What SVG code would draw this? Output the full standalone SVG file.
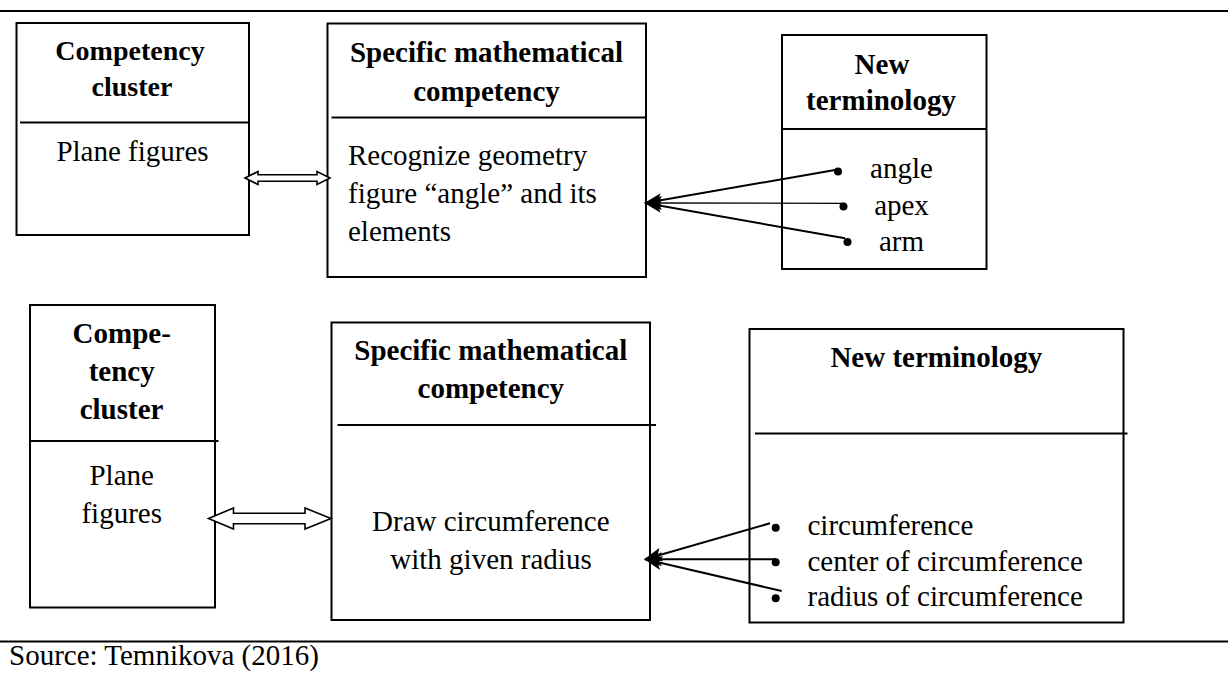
<svg xmlns="http://www.w3.org/2000/svg" width="1228" height="677" viewBox="0 0 1228 677">
<style>
.box{fill:none;stroke:#000;stroke-width:2}
.div{stroke:#000;stroke-width:2}
.rule{stroke:#000;stroke-width:2}
.h{font-family:"Liberation Serif","Times New Roman",serif;font-weight:bold;font-size:29px;fill:#000;text-anchor:middle}
.hs{font-size:28px}
.t{font-family:"Liberation Serif","Times New Roman",serif;font-size:29px;fill:#000}
.c{text-anchor:middle}
.con{stroke:#000;stroke-width:2;fill:none}
.thin{stroke-width:1.3}
.dbl{fill:#fff;stroke:#000;stroke-width:1.6;stroke-linejoin:miter}
.dot{fill:#000}
</style>
<defs>
<marker id="ah" markerUnits="userSpaceOnUse" markerWidth="18" markerHeight="14" refX="17" refY="7" orient="auto">
<path d="M0,0 L18,7 L0,14 L4,7 z" fill="#000"/>
</marker>
</defs>
<rect width="1228" height="677" fill="#fff"/>
<line class="rule" x1="0" y1="11" x2="1228" y2="11"/>
<line class="rule" x1="0" y1="641.5" x2="1228" y2="641.5"/>
<text class="t" x="9" y="665">Source: Temnikova (2016)</text>

<g id="cluster1">
<rect class="box" x="16.5" y="23" width="232.5" height="212"/>
<line class="div" x1="20" y1="122.5" x2="248" y2="122.5"/>
<text class="h hs" x="130" y="60">Competency</text>
<text class="h hs" x="132" y="96">cluster</text>
<text class="t c" x="132.5" y="161">Plane figures</text>
</g>

<g id="competency1">
<rect class="box" x="327.5" y="23.5" width="318.5" height="253.5"/>
<line class="div" x1="331.5" y1="117.5" x2="646" y2="117.5"/>
<text class="h" x="486.5" y="61.5">Specific mathematical</text>
<text class="h" x="486.5" y="100.5">competency</text>
<text class="t" x="348" y="165">Recognize geometry</text>
<text class="t" x="348" y="203">figure “angle” and its</text>
<text class="t" x="348" y="240.5">elements</text>
</g>

<g id="terminology1">
<rect class="box" x="782" y="35" width="204.5" height="234"/>
<line class="div" x1="782" y1="129" x2="987" y2="129"/>
<text class="h" x="882" y="74">New</text>
<text class="h" x="881" y="110">terminology</text>
<circle class="dot" cx="838" cy="171.5" r="4"/>
<circle class="dot" cx="843.5" cy="206.5" r="4"/>
<circle class="dot" cx="847.5" cy="242" r="4"/>
<text class="t c" x="901.5" y="178">angle</text>
<text class="t c" x="901.5" y="214.5">apex</text>
<text class="t c" x="901.5" y="251">arm</text>
</g>

<g id="cluster2">
<rect class="box" x="30" y="305" width="185" height="302.5"/>
<line class="div" x1="30" y1="441" x2="218.5" y2="441"/>
<text class="h" x="121.7" y="343">Compe-</text>
<text class="h" x="121.7" y="380.5">tency</text>
<text class="h" x="121.5" y="419">cluster</text>
<text class="t c" x="121.7" y="485">Plane</text>
<text class="t c" x="121.7" y="523">figures</text>
</g>

<g id="competency2">
<rect class="box" x="331.5" y="322.5" width="318.5" height="297.5"/>
<line class="div" x1="337.5" y1="425" x2="656" y2="425"/>
<text class="h" x="490.8" y="360">Specific mathematical</text>
<text class="h" x="490.8" y="398">competency</text>
<text class="t c" x="490.8" y="530.5">Draw circumference</text>
<text class="t c" x="491" y="569">with given radius</text>
</g>

<g id="terminology2">
<rect class="box" x="749.5" y="329" width="374" height="293.5"/>
<line class="div" x1="755" y1="433.5" x2="1127.5" y2="433.5"/>
<text class="h" x="936.3" y="366.5">New terminology</text>
<circle class="dot" cx="775.7" cy="527.7" r="4"/>
<circle class="dot" cx="775.7" cy="562.3" r="4"/>
<circle class="dot" cx="775.7" cy="598.3" r="4"/>
<text class="t" x="807.5" y="535">circumference</text>
<text class="t" x="807.5" y="570.5">center of circumference</text>
<text class="t" x="807.5" y="606">radius of circumference</text>
</g>

<g id="connectors">
<polygon class="dbl" points="245,178 258,171.5 258,174.8 317,174.8 317,171.5 330,178 317,184.5 317,181.2 258,181.2 258,184.5"/>
<line class="con" x1="835" y1="170" x2="645" y2="203" marker-end="url(#ah)"/>
<line class="con thin" x1="845" y1="203.3" x2="645" y2="203" marker-end="url(#ah)"/>
<line class="con" x1="845" y1="238.3" x2="645" y2="203" marker-end="url(#ah)"/>
<polygon class="dbl" points="208.5,518.5 233.5,508 233.5,513.2 305,513.2 305,508 331,518.5 305,529 305,523.8 233.5,523.8 233.5,529"/>
<line class="con" x1="770" y1="523.3" x2="645" y2="559.3" marker-end="url(#ah)"/>
<line class="con" x1="776" y1="559.3" x2="645" y2="559.3" marker-end="url(#ah)"/>
<line class="con" x1="781.7" y1="591" x2="645" y2="559.3" marker-end="url(#ah)"/>
</g>
</svg>
